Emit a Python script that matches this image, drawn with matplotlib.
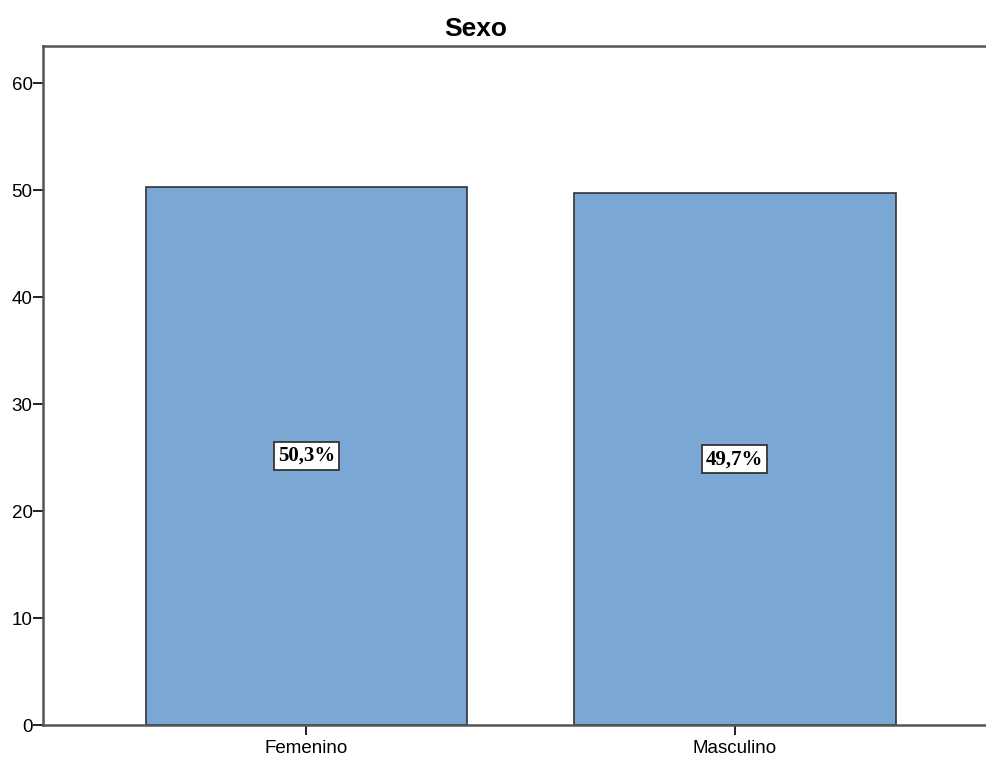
import matplotlib.pyplot as plt
import numpy as np

plt.rcParams['font.family'] = ['Liberation Sans', 'DejaVu Sans']

# datos
categorias = ['Femenino', 'Masculino']
porcentajes = [50.3, 49.7]
etiquetas = ['50,3%', '49,7%']
yticks = [0, 10, 20, 30, 40, 50, 60]

fig = plt.figure(figsize=(9.86, 7.58), dpi=100)
ax = fig.add_axes([0.0436, 0.0435, 0.969, 0.8958])

x = np.arange(len(categorias))
ax.bar(x, porcentajes, width=0.75, color='#7BA7D5', edgecolor='#333333', linewidth=1.2, zorder=2)

# etiquetas de porcentaje en el centro de cada barra
for xi, val, txt in zip(x, porcentajes, etiquetas):
    ax.text(xi, val / 2, txt, ha='center', va='center', fontsize=15, fontweight='bold',
            family=['Liberation Serif', 'DejaVu Serif'], zorder=3,
            bbox=dict(boxstyle='square,pad=0.18', facecolor='white', edgecolor='#333333', linewidth=1.3))

ax.set_xlim(-0.615, 1.615)
ax.set_ylim(0, 63.46)
ax.set_xticks(x)
ax.set_xticklabels(categorias, fontsize=13.5)
ax.set_yticks(yticks)
ax.set_yticklabels([str(t) for t in yticks], fontsize=13.5)

for lado in ['left', 'bottom', 'top', 'right']:
    ax.spines[lado].set_color('#555555')
    ax.spines[lado].set_linewidth(1.8)
ax.tick_params(axis='y', length=7, width=1.4, color='#222222', pad=0.5)
ax.tick_params(axis='x', length=7.5, width=1.4, color='#222222', pad=3)

# título centrado sobre el área del gráfico
fig.text(0.482, 1 - 29 / 758, 'Sexo', ha='center', va='center', fontsize=19, fontweight='bold')

fig.savefig('out.png', dpi=100, facecolor='white')
plt.close(fig)
